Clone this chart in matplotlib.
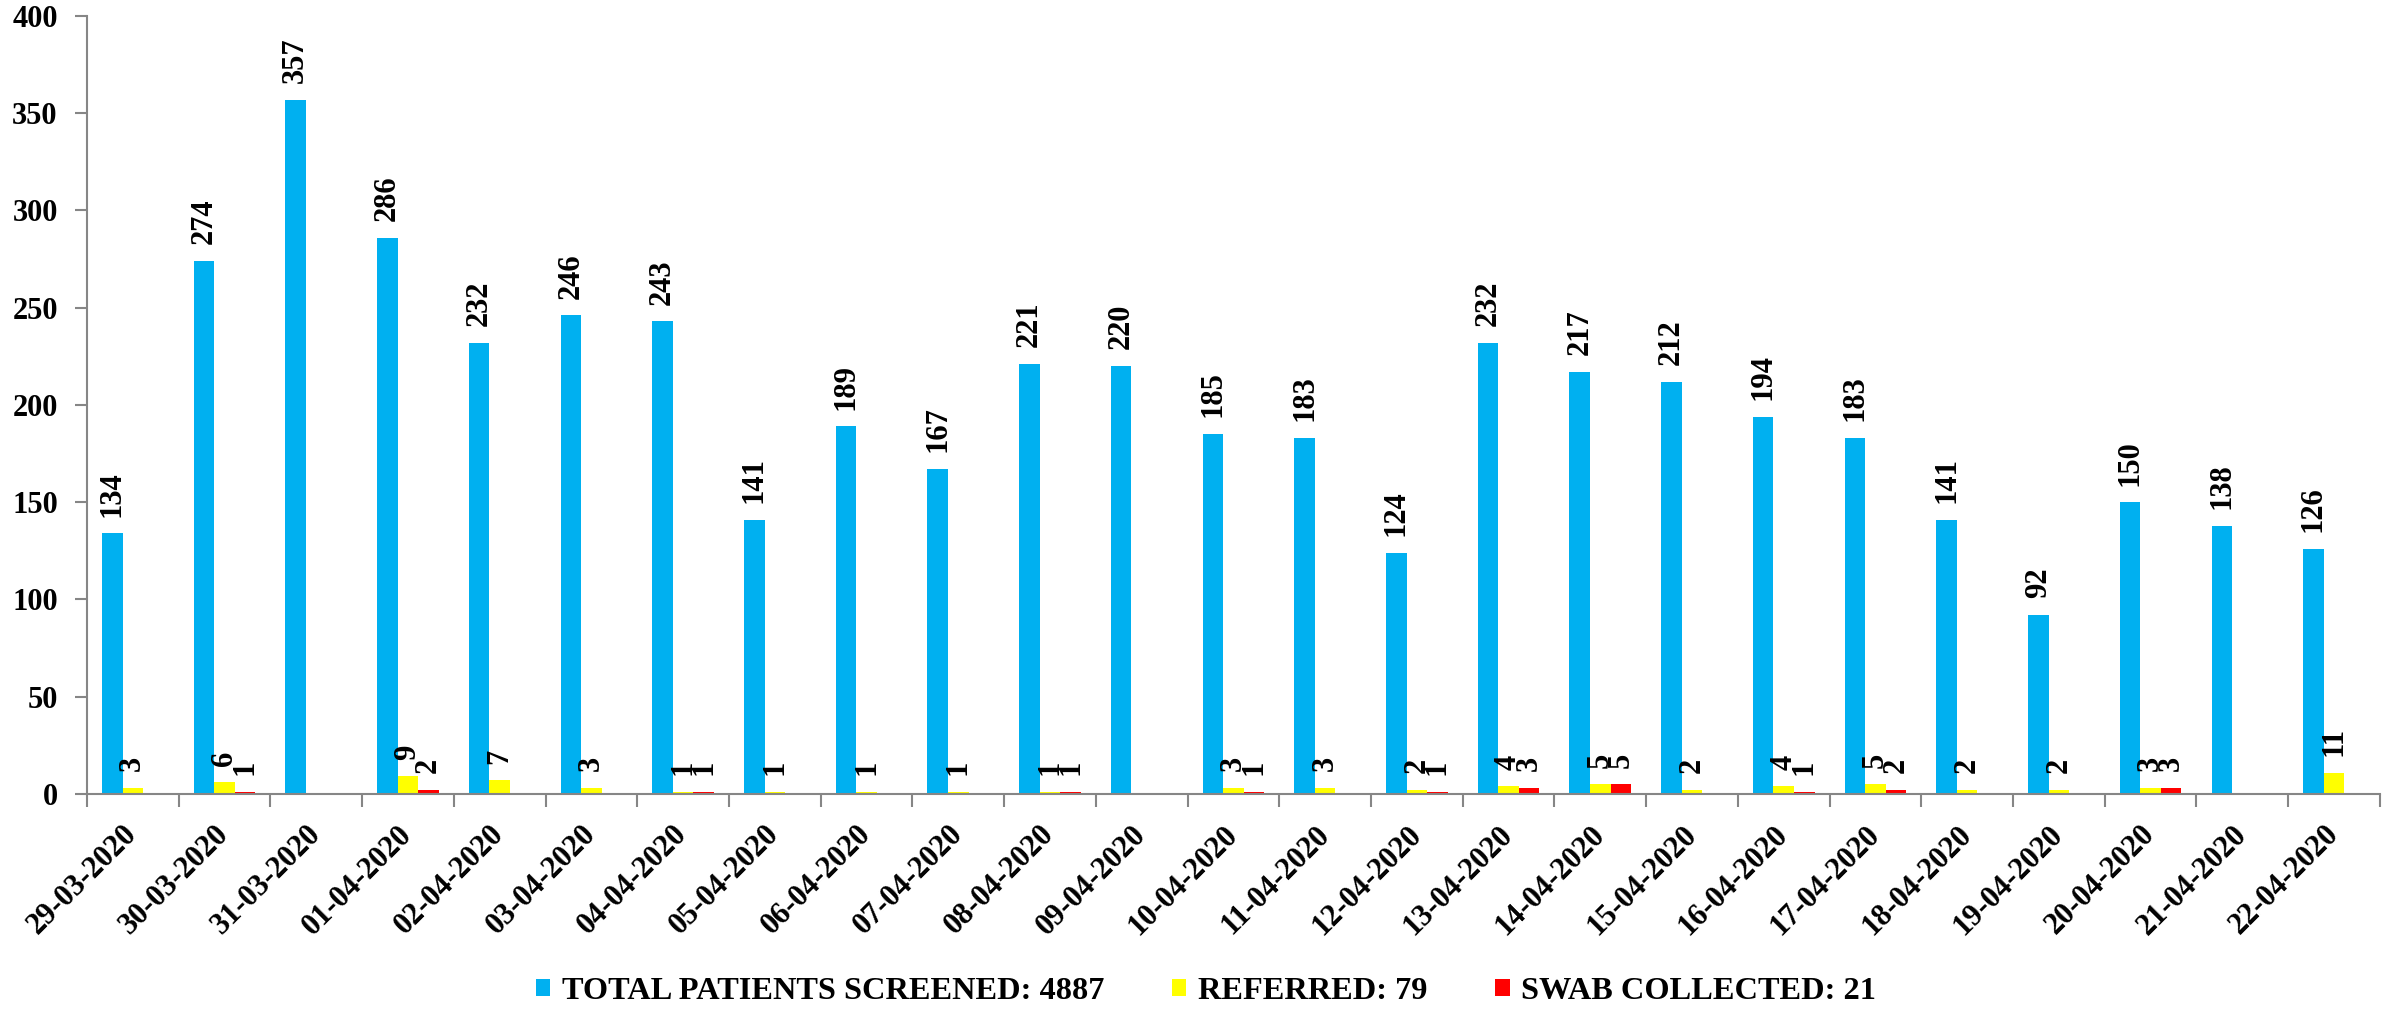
import numpy as np
import matplotlib
matplotlib.use('Agg')
import matplotlib.pyplot as plt

plt.rcParams['font.family'] = 'Liberation Serif'
plt.rcParams['font.weight'] = 'bold'

# data
dates = ['29-03-2020', '30-03-2020', '31-03-2020', '01-04-2020', '02-04-2020',
         '03-04-2020', '04-04-2020', '05-04-2020', '06-04-2020', '07-04-2020',
         '08-04-2020', '09-04-2020', '10-04-2020', '11-04-2020', '12-04-2020',
         '13-04-2020', '14-04-2020', '15-04-2020', '16-04-2020', '17-04-2020',
         '18-04-2020', '19-04-2020', '20-04-2020', '21-04-2020', '22-04-2020']
screened = [134, 274, 357, 286, 232, 246, 243, 141, 189, 167, 221, 220, 185,
            183, 124, 232, 217, 212, 194, 183, 141, 92, 150, 138, 126]
referred = [3, 6, 0, 9, 7, 3, 1, 1, 1, 1, 1, 0, 3, 3, 2, 4, 5, 2, 4, 5, 2, 2, 3, 0, 11]
swab = [0, 1, 0, 2, 0, 0, 1, 0, 0, 0, 1, 0, 1, 0, 1, 3, 5, 0, 1, 2, 0, 0, 3, 0, 0]

series = [
    (screened, '#00B0F0', 'TOTAL PATIENTS SCREENED: {}'.format(sum(screened))),
    (referred, '#FFFF00', 'REFERRED: {}'.format(sum(referred))),
    (swab, '#FF0000', 'SWAB COLLECTED: {}'.format(sum(swab))),
]

fig = plt.figure(figsize=(24.02, 10.10), dpi=100)
ax = fig.add_axes([0.0362, 0.2139, 0.9546, 0.7703])

x = np.arange(len(dates))
w = 0.224
for i, (vals, col, lab) in enumerate(series):
    bars = ax.bar(x + (i - 1) * w, vals, w, color=col, label=lab)
    labels = [str(v) if v > 0 else '' for v in vals]
    ax.bar_label(bars, labels=labels, rotation=90, padding=12,
                 fontsize=22, fontweight='bold')

ax.set_xlim(-0.5, len(dates) - 0.5)
ax.set_ylim(0, 400)
ax.set_yticks(range(0, 401, 50))
ax.set_xticks(x)
ax.set_xticklabels(dates, rotation=45, ha='right', va='center', rotation_mode='anchor')
ax.set_xticks(np.arange(len(dates) + 1) - 0.5, minor=True)

for s in ['top', 'right']:
    ax.spines[s].set_visible(False)
for s in ['left', 'bottom']:
    ax.spines[s].set_color('#868686')
    ax.spines[s].set_linewidth(1.5)

ax.tick_params(axis='y', labelsize=22, length=9, width=1.5, color='#868686', pad=12)
ax.tick_params(axis='x', which='major', labelsize=22, length=0, pad=26)
ax.tick_params(axis='x', which='minor', length=9, width=1.5, color='#868686')

fig.legend(loc='center', bbox_to_anchor=(0.502, 0.018), ncol=3, frameon=False,
           fontsize=23.3, handlelength=0.45, handleheight=0.45,
           handletextpad=0.35, columnspacing=2.1)

fig.savefig('out.png', dpi=100)
